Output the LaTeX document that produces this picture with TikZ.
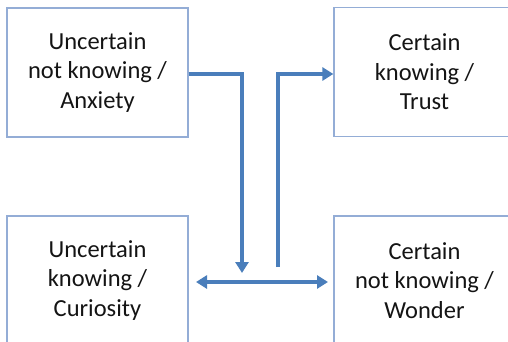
\documentclass[tikz,border=0pt]{standalone}
\usepackage{fontspec}
\setmainfont{Carlito}
\usetikzlibrary{arrows.meta}
\definecolor{flow}{HTML}{4A7EBB}
\definecolor{frame}{HTML}{94ADD6}
\definecolor{ink}{HTML}{141414}
\begin{document}
\begin{tikzpicture}[x=1pt,y=-1pt,
  state/.style={draw=frame, line width=1.3pt, fill=white,
    minimum width=181pt, minimum height=129pt, inner sep=0pt,
    align=center, text=ink, font=\fontsize{24.5}{29.5}\selectfont},
  flowline/.style={draw=flow, line width=4pt,
    -{Triangle[length=11pt,width=13pt]}},
  bothways/.style={draw=flow, line width=4pt,
    {Triangle[length=11pt,width=13pt]}-{Triangle[length=11pt,width=13pt]}}]
  \useasboundingbox (0,0) rectangle (508,342);
  % the four states
  \node[state] (anx) at (97.5,72.5)  {Uncertain\\not knowing /\\Anxiety};
  \node[state] (tru) at (424.5,72)   {Certain\\knowing /\\Trust};
  \node[state] (cur) at (97.5,280.5) {Uncertain\\knowing /\\Curiosity};
  \node[state] (won) at (424.5,280.5){Certain\\not knowing /\\Wonder};
  % turning points and free ends of the connectors
  \coordinate (downend) at (242,273);
  \coordinate (upstart) at (278,267);
  \coordinate (leftend) at (196,282);
  \coordinate (rightend) at (328,282);
  % connectors
  \draw[flowline] (anx.east |- 0,74) -| (downend);
  \draw[flowline] (upstart) |- (tru.west |- 0,74);
  \draw[bothways] (leftend) -- (rightend);
\end{tikzpicture}
\end{document}
